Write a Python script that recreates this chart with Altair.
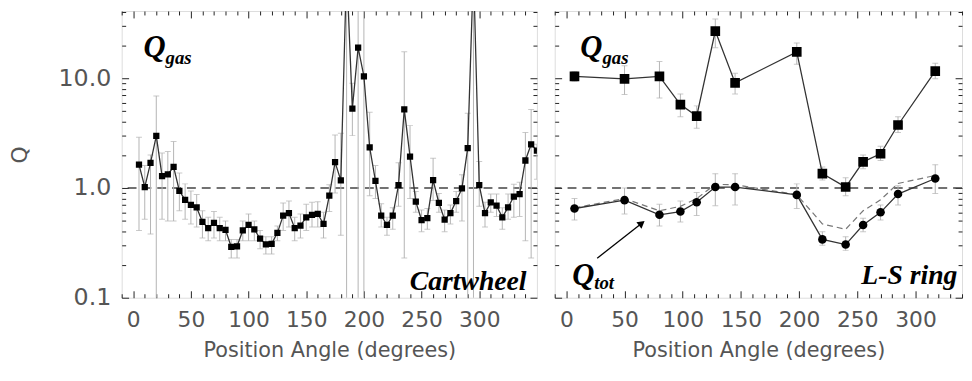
import altair as alt
import pandas as pd

# ---------------- data ----------------
cart_angle = [5, 10, 15, 20, 25, 30, 35, 40, 45, 50, 55, 60, 65, 70, 75, 80, 85, 90, 95, 100,
              105, 110, 115, 120, 125, 130, 135, 140, 145, 150, 155, 160, 165, 170, 175, 180,
              185, 190, 195, 200, 205, 210, 215, 220, 225, 230, 235, 240, 245, 250, 255, 260,
              265, 270, 275, 280, 285, 290, 295, 300, 305, 310, 315, 320, 325, 330, 335, 340,
              345, 350]
cart_q = [1.63, 1.02, 1.69, 2.98, 1.28, 1.33, 1.56, 0.94, 0.78, 0.70, 0.665, 0.49, 0.43, 0.48,
          0.43, 0.416, 0.29, 0.294, 0.41, 0.46, 0.42, 0.345, 0.306, 0.31, 0.39, 0.56, 0.59, 0.43,
          0.455, 0.54, 0.57, 0.58, 0.47, 0.85, 1.72, 1.17, 100.0, 5.3, 19.0, 10.4, 2.34, 1.16,
          0.56, 0.46, 0.56, 1.06, 5.2, 1.93, 0.75, 0.51, 0.53, 1.18, 0.73, 0.515, 0.59, 0.76,
          0.99, 2.31, 100.0, 1.06, 0.59, 0.74, 0.69, 0.54, 0.665, 0.835, 0.88, 1.78, 2.5, 2.19]
cart_hi = [2.9, 1.6, 2.0, 6.9, 2.08, 2.15, 2.65, 1.37, 1.09, 0.94, 0.87, 0.62, 0.54, 0.61, 0.54,
           0.50, 0.34, 0.34, 0.50, 0.58, 0.50, 0.41, 0.36, 0.36, 0.45, 0.73, 0.76, 0.54, 0.58,
           0.71, 0.74, 0.75, 0.60, 1.07, 3.04, 3.15, 1000, 9.0, 1000, 1000, 4.9, 1.6, 0.72, 0.54,
           0.66, 1.7, 17.4, 3.7, 0.93, 0.63, 0.65, 1.87, 0.89, 0.63, 0.70, 0.93, 1.32, 4.8, 1000,
           1.74, 0.74, 0.88, 0.88, 0.66, 0.88, 1.08, 1.13, 3.2, 5.2, 2.5]
cart_lo = [0.41, 0.52, 0.38, 0.01, 0.52, 0.50, 0.50, 0.62, 0.52, 0.47, 0.44, 0.35, 0.33, 0.35,
           0.33, 0.33, 0.23, 0.23, 0.33, 0.33, 0.33, 0.28, 0.25, 0.25, 0.33, 0.41, 0.44, 0.33,
           0.35, 0.41, 0.44, 0.44, 0.35, 0.61, 0.9, 0.37, 0.01, 3.0, 0.01, 0.01, 0.85, 0.8, 0.44,
           0.37, 0.42, 0.68, 0.23, 0.8, 0.6, 0.40, 0.42, 0.77, 0.6, 0.40, 0.47, 0.60, 0.50, 0.01,
           0.01, 0.68, 0.44, 0.60, 0.55, 0.42, 0.52, 0.54, 0.55, 0.33, 0.23, 1.2]

ls_angle = [7, 50, 80, 98, 112, 128, 145, 198, 220, 240, 255, 270, 285, 317]
ls_gas = [10.4, 9.86, 10.4, 5.75, 4.52, 26.9, 9.07, 17.4, 1.35, 1.02, 1.73, 2.05, 3.75, 11.6]
ls_gas_hi = [11.5, 13.0, 14.2, 7.2, 5.6, 34.6, 11.1, 21.0, 1.55, 1.24, 2.0, 2.4, 4.45, 13.7]
ls_gas_lo = [9.4, 7.1, 6.6, 4.45, 3.5, 19.0, 7.2, 13.4, 1.18, 0.85, 1.5, 1.78, 3.2, 9.9]
ls_tot = [0.65, 0.775, 0.57, 0.61, 0.74, 1.02, 1.02, 0.865, 0.34, 0.305, 0.46, 0.6, 0.88, 1.22]
ls_tot_hi = [0.8, 1.0, 0.71, 0.76, 0.91, 1.35, 1.35, 1.09, 0.4, 0.36, 0.53, 0.7, 1.05, 1.63]
ls_tot_lo = [0.51, 0.58, 0.45, 0.49, 0.56, 0.69, 0.7, 0.65, 0.3, 0.27, 0.4, 0.51, 0.7, 0.89]
ls_tot_dash = [0.66, 0.80, 0.62, 0.68, 0.80, 1.08, 1.07, 0.87, 0.47, 0.42, 0.62, 0.78, 1.10, 1.30]

x_major = [0, 50, 100, 150, 200, 250, 300]
x_minor = [-10, 10, 20, 30, 40, 60, 70, 80, 90, 110, 120, 130, 140, 160, 170, 180, 190,
           210, 220, 230, 240, 260, 270, 280, 290, 310, 320, 330, 340]
y_major = [0.1, 1, 10]
y_minor = [0.2, 0.3, 0.4, 0.5, 0.6, 0.7, 0.8, 0.9, 2, 3, 4, 5, 6, 7, 8, 9, 20, 30, 40]

left_dom = [-10, 350]
right_dom = [-10, 340]
y_dom = [0.1, 41]

# annotation text (positions in data units)
left_big = pd.DataFrame({"t": ["Q"], "x": [9], "y": [15.5]})
left_sub = pd.DataFrame({"t": ["gas"], "x": [28], "y": [13.6]})
left_name = pd.DataFrame({"t": ["Cartwheel"], "x": [341], "y": [0.118]})
right_big = pd.DataFrame({"t": ["Q", "Q"], "x": [12, 5], "y": [15.5, 0.131]})
right_sub = pd.DataFrame({"t": ["gas", "tot"], "x": [31, 24], "y": [13.6, 0.12]})
right_name = pd.DataFrame({"t": ["L-S ring"], "x": [336], "y": [0.134]})
arrow = pd.DataFrame({"x": [26.5], "y": [0.229], "x2": [64], "y2": [0.47]})

# ---------------- styling ----------------
TICK_FONT = "DejaVu Sans"
SERIF = "Liberation Serif"
LINE = "#333333"
ERR = "#b4b4b4"
TXT = "#555555"
TM, Tm = 7, 4

def xax(kind, title=None):
    if kind == "bmaj":
        return alt.Axis(orient="bottom", values=x_major, offset=-TM, tickSize=TM, domain=False,
                        grid=False, format="d", labelFlush=False, labelPadding=12,
                        labelFont=TICK_FONT, labelFontSize=22, labelColor=TXT,
                        title=title, titleFont=TICK_FONT, titleFontWeight="normal",
                        titleFontSize=21, titleColor=TXT,
                        titlePadding=9, tickColor="#222")
    if kind == "bmin":
        return alt.Axis(orient="bottom", values=x_minor, offset=-Tm, tickSize=Tm, domain=False,
                        grid=False, labels=False, title=None, tickColor="#222")
    if kind == "tmaj":
        return alt.Axis(orient="top", values=x_major, offset=-TM, tickSize=TM, domain=False,
                        grid=False, labels=False, title=None, tickColor="#222")
    return alt.Axis(orient="top", values=x_minor, offset=-Tm, tickSize=Tm, domain=False,
                    grid=False, labels=False, title=None, tickColor="#222")

def yax(kind, labels):
    if kind == "lmaj":
        return alt.Axis(orient="left", values=y_major, offset=-TM, tickSize=TM, domain=False,
                        grid=False, labels=labels, format=".1f", labelOverlap=False,
                        labelPadding=11, labelFont=TICK_FONT, labelFontSize=24,
                        labelColor=TXT,
                        title="Q" if labels else None, titleFont=TICK_FONT, titleFontSize=22,
                        titleFontWeight="normal", titleColor=TXT, titlePadding=27,
                        tickColor="#222")
    if kind == "lmin":
        return alt.Axis(orient="left", values=y_minor, offset=-Tm, tickSize=Tm, domain=False,
                        grid=False, labels=False, title=None, tickColor="#222")
    if kind == "rmaj":
        return alt.Axis(orient="right", values=y_major, offset=-TM, tickSize=TM, domain=False,
                        grid=False, labels=False, title=None, tickColor="#222")
    return alt.Axis(orient="right", values=y_minor, offset=-Tm, tickSize=Tm, domain=False,
                    grid=False, labels=False, title=None, tickColor="#222")


def panel(width, xdom, df_err, df_line, point_layers, texts, extra, labels):
    xs = alt.Scale(domain=xdom, nice=False, zero=False)
    ys = alt.Scale(type="log", domain=y_dom, nice=False)

    def X(field, axis):
        return alt.X(field, type="quantitative", scale=xs, axis=axis)

    def Y(field, axis):
        return alt.Y(field, type="quantitative", scale=ys, axis=axis)

    err = alt.Chart(df_err).mark_rule(color=ERR, strokeWidth=1, clip=True).encode(
        x=X("a", xax("bmaj", "Position Angle (degrees)")),
        y=Y("lo", yax("lmaj", labels)), y2="hi")
    cap_lo = alt.Chart(df_err).mark_tick(color=ERR, thickness=1, size=6, orient="horizontal",
                                         clip=True).encode(
        x=X("a", xax("bmin")), y=Y("lo", yax("lmin", labels)))
    cap_hi = alt.Chart(df_err).mark_tick(color=ERR, thickness=1, size=6, orient="horizontal",
                                         clip=True).encode(
        x=X("a", xax("tmaj")), y=Y("hi", yax("rmaj", labels)))
    line = alt.Chart(df_line).mark_line(color=LINE, strokeWidth=1.3, clip=True).encode(
        x=X("a", xax("tmin")), y=Y("q", yax("rmin", labels)), detail="s:N")
    unity = alt.Chart(pd.DataFrame({"q": [1.0]})).mark_rule(
        color="#444", strokeWidth=1.6, strokeDash=[9, 6]).encode(y=Y("q", None))
    layers = [unity, err, cap_lo, cap_hi] + extra(X, Y) + [line]
    for dfp, shape, size in point_layers:
        layers.append(alt.Chart(dfp).mark_point(shape=shape, filled=True, size=size,
                                                color="black", opacity=1, clip=True).encode(
            x=X("a", None), y=Y("q", None)))
    for dft, fs in texts:
        layers.append(alt.Chart(dft[0]).mark_text(font=SERIF, fontSize=fs, fontWeight="bold",
                                                  fontStyle="italic", color="black",
                                                  align=dft[1], baseline="alphabetic").encode(
            x=X("x", None), y=Y("y", None), text="t:N"))
    return alt.layer(*layers).resolve_axis(x="independent", y="independent").properties(
        width=width, height=290)


# ---- left panel (Cartwheel) ----
cart_err = pd.DataFrame({"a": cart_angle, "lo": cart_lo, "hi": cart_hi})
cart_line = pd.DataFrame({"a": cart_angle, "q": cart_q, "s": "gas"})
left = panel(420, left_dom, cart_err, cart_line,
             [(pd.DataFrame({"a": cart_angle, "q": cart_q}), "square", 40)],
             [((left_big, "left"), 31), ((left_sub, "left"), 19), ((left_name, "right"), 28)],
             lambda X, Y: [], True)

# ---- right panel (L-S ring) ----
ls_err = pd.DataFrame({"a": ls_angle + ls_angle, "lo": ls_gas_lo + ls_tot_lo,
                       "hi": ls_gas_hi + ls_tot_hi})
ls_line = pd.DataFrame({"a": ls_angle + ls_angle, "q": ls_gas + ls_tot,
                        "s": ["gas"] * len(ls_angle) + ["tot"] * len(ls_angle)})
dash_df = pd.DataFrame({"a": ls_angle, "q": ls_tot_dash})


def right_extra(X, Y):
    dashed = alt.Chart(dash_df).mark_line(color="#777", strokeWidth=1.2, strokeDash=[6, 4],
                                          clip=True).encode(x=X("a", None), y=Y("q", None))
    arr = alt.Chart(arrow).mark_rule(color="black", strokeWidth=1.3).encode(
        x=X("x", None), y=Y("y", None), x2="x2", y2="y2")
    head = alt.Chart(arrow).mark_point(shape="triangle", filled=True, size=70, angle=52,
                                       color="black", opacity=1).encode(
        x=X("x2", None), y=Y("y2", None))
    return [dashed, arr, head]


right = panel(412, right_dom, ls_err, ls_line,
              [(pd.DataFrame({"a": ls_angle, "q": ls_gas}), "square", 95),
               (pd.DataFrame({"a": ls_angle, "q": ls_tot}), "circle", 75)],
              [((right_big, "left"), 31), ((right_sub, "left"), 19), ((right_name, "right"), 28)],
              right_extra, False)

chart = alt.hconcat(left, right, spacing=14).properties(
    padding={"left": 0, "top": 0, "right": 0, "bottom": 0}
).configure_view(stroke="black", strokeWidth=1.2).configure(background="white")

chart.save("out.html", embed_options={"renderer": "svg", "actions": False})
